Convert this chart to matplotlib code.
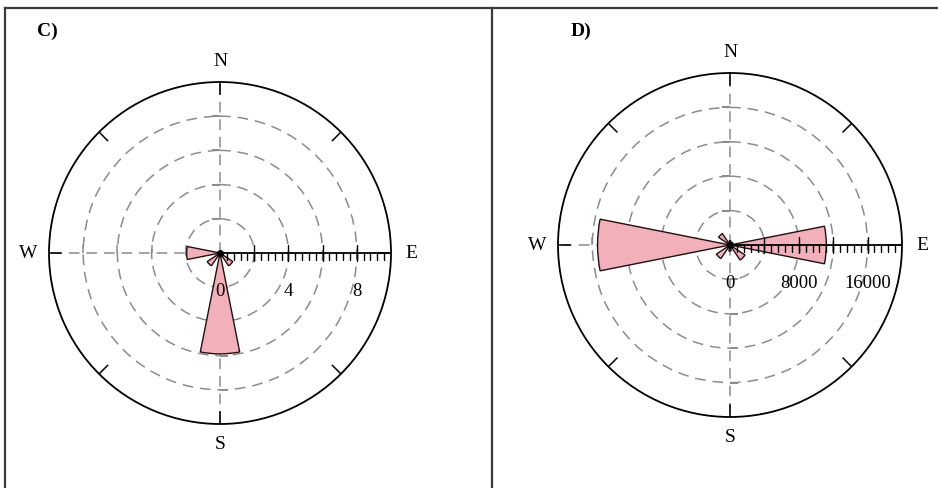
import numpy as np
import matplotlib
matplotlib.use("Agg")
import matplotlib.pyplot as plt
from matplotlib.lines import Line2D
from matplotlib.markers import TICKDOWN, TICKLEFT, TICKRIGHT, TICKUP

plt.rcParams["font.family"] = ["Liberation Serif", "DejaVu Serif"]

# 16 compass sectors, degrees clockwise from north (N, NNE, NE, ... NNW)
directions = np.arange(0, 360, 22.5)
counts_c = [0, 0, 0, 0, 0, 0, 0.9, 0, 5.9, 0, 0.9, 0, 1.95, 0, 0, 0]
counts_d = [500, 0, 400, 0, 11200, 0, 2100, 0, 700, 0, 1900, 0, 15400, 0, 1600, 0]

rings_c = [2, 4, 6, 8]
rings_d = [4000, 8000, 12000, 16000]
ticklabels_c = [0, 4, 8]
ticklabels_d = [0, 8000, 16000]

PINK = "#f1b0ba"
EDGE = "#221010"
GRID = "#8c8c8c"
DASH = (0, (7, 4.5))


def draw_rose(ax, counts, rmax, rings, minor_step, ticklabels):
    ax.set_theta_zero_location("N")
    ax.set_theta_direction(-1)
    ax.bar(np.deg2rad(directions), counts, width=np.deg2rad(22.5), bottom=0,
           color=PINK, edgecolor=EDGE, linewidth=1.0, zorder=3)
    ax.set_ylim(0, rmax)
    ax.set_rgrids(rings, labels=[""] * len(rings))
    ax.set_thetagrids([])
    ax.xaxis.grid(False)
    ax.yaxis.grid(True, color=GRID, linestyle=DASH, linewidth=1.1)
    ax.spines["polar"].set_linewidth(1.3)

    # dashed N-S and W arms with small cross ticks where the rings cut them
    for theta, mk in [(0, TICKLEFT), (np.pi, TICKRIGHT), (1.5 * np.pi, TICKUP)]:
        ax.plot([theta, theta], [0, rmax], color=GRID, linestyle=DASH, linewidth=1.1, zorder=2)
        ax.plot([theta] * len(rings), rings, linestyle="none", marker=mk,
                markersize=6, color=GRID, markeredgewidth=1.1, zorder=2)

    # scale bar along the east arm
    east = np.pi / 2
    ax.plot([east, east], [0, rmax], color="black", linewidth=1.3, zorder=4)
    minor = np.arange(minor_step, rmax, minor_step)
    ax.plot([east] * len(minor), minor, linestyle="none", marker=TICKDOWN,
            markersize=5, color="black", markeredgewidth=1.0, zorder=4)
    ax.plot([east] * len(rings), rings, linestyle="none", marker="|",
            markersize=11, color="black", markeredgewidth=1.0, zorder=4)
    for val in ticklabels:
        ax.annotate(f"{val}", xy=(east, val), xytext=(0, -38), textcoords="offset pixels",
                    ha="center", va="center", fontsize=13.5, zorder=5)

    # short ticks on the outer circle at the 8 main compass points
    for deg in range(0, 360, 45):
        t = np.deg2rad(deg)
        ax.plot([t, t], [0.93 * rmax, rmax], color="black", linewidth=1.1, zorder=4)

    ax.plot([0], [0], marker="o", markersize=4, color="black", zorder=5)

    for lab, deg in [("N", 0), ("E", 90), ("S", 180), ("W", 270)]:
        ax.text(np.deg2rad(deg), 1.12 * rmax, lab, ha="center", va="center",
                fontsize=14, clip_on=False)


fig = plt.figure(figsize=(9.38, 4.88), dpi=100)
W, H = 938, 488

ax_c = fig.add_axes([(220 - 171) / W, (H - 253 - 171) / H, 342 / W, 342 / H], projection="polar")
draw_rose(ax_c, counts_c, 10, rings_c, 0.4, ticklabels_c)

ax_d = fig.add_axes([(730 - 172) / W, (H - 245 - 172) / H, 344 / W, 344 / H], projection="polar")
draw_rose(ax_d, counts_d, 20000, rings_d, 800, ticklabels_d)

# panel frame
frame = dict(color="#3a3a3a", linewidth=1.6)
fig.add_artist(Line2D([5 / W, 1], [1 - 8 / H, 1 - 8 / H], **frame))
fig.add_artist(Line2D([5 / W, 5 / W], [0, 1 - 8 / H], **frame))
fig.add_artist(Line2D([492 / W, 492 / W], [0, 1 - 8 / H], **frame))

fig.text(37 / W, 1 - 31 / H, "C)", fontsize=14, fontweight="bold", va="center")
fig.text(571 / W, 1 - 31 / H, "D)", fontsize=14, fontweight="bold", va="center")

fig.savefig("out.png", dpi=100)
